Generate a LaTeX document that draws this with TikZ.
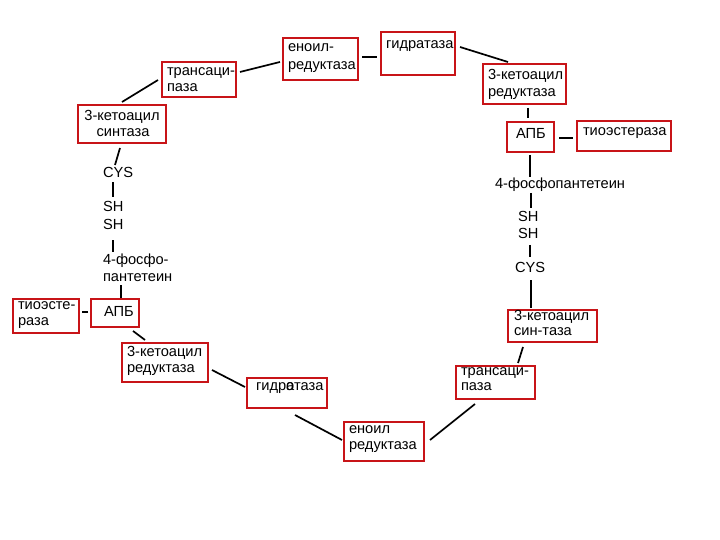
\documentclass[tikz,border=0pt]{standalone}
\usepackage{fontspec}
\setmainfont{Liberation Sans}
\usetikzlibrary{calc}
\definecolor{boxred}{RGB}{200,20,24}
\tikzset{
  box/.style={draw=boxred, line width=2bp, rectangle, inner sep=0pt, outer sep=0pt, anchor=north west},
  txt/.style={inner sep=0pt, outer sep=0pt, anchor=base west, font=\fontsize{14.7}{17}\selectfont},
  ctxt/.style={txt, anchor=base},
  conn/.style={draw=black, line width=1.7bp}
}
\begin{document}
\begin{tikzpicture}[x=1bp, y=-1bp]
\useasboundingbox[fill=white] (0,0) rectangle (720,540);
% boxes
\node[box, minimum width=74, minimum height=35] (tr1) at (162,62) {};
\node[box, minimum width=75, minimum height=42] (en1) at (283,38) {};
\node[box, minimum width=74, minimum height=43] (gid1) at (381,32) {};
\node[box, minimum width=83, minimum height=40] (kr1) at (483,64) {};
\node[box, minimum width=47, minimum height=30] (apb1) at (507,122) {};
\node[box, minimum width=94, minimum height=30] (te1) at (577,121) {};
\node[box, minimum width=88, minimum height=38] (ks1) at (78,105) {};
\node[box, minimum width=48, minimum height=28] (apb2) at (91,299) {};
\node[box, minimum width=66, minimum height=34] (te2) at (13,299) {};
\node[box, minimum width=86, minimum height=39] (kr2) at (122,343) {};
\node[box, minimum width=80, minimum height=30] (gid2) at (247,378) {};
\node[box, minimum width=80, minimum height=39] (en2) at (344,422) {};
\node[box, minimum width=79, minimum height=33] (tr2) at (456,366) {};
\node[box, minimum width=89, minimum height=32] (ks2) at (508,310) {};
% box texts
\node[txt] (tr1a) at (167,76) {трансаци-};
\node[txt] (tr1b) at (167,92) {паза};
\node[txt] (en1a) at (288,52) {еноил-};
\node[txt] (en1b) at (288,70) {редуктаза};
\node[txt] (gid1a) at (386,49) {гидратаза};
\node[txt] (kr1a) at (488,80) {3-кетоацил};
\node[txt] (kr1b) at (488,97) {редуктаза};
\node[txt] (apb1a) at (516,139) {АПБ};
\node[txt] (te1a) at (583,136) {тиоэстераза};
\node[ctxt] (ks1a) at (122,121) {3-кетоацил};
\node[ctxt] (ks1b) at (123,137) {синтаза};
\node[txt] (te2a) at (18,309) {тиоэсте-};
\node[txt] (te2b) at (18,325) {раза};
\node[txt] (apb2a) at (104,316) {АПБ};
\node[txt] (kr2a) at (127,356) {3-кетоацил};
\node[txt] (kr2b) at (127,372) {редуктаза};
\node[txt] (gid2a) at (256,390) {гидр\rlap{о}атаза};
\node[txt] (en2a) at (349,433) {еноил};
\node[txt] (en2b) at (349,449) {редуктаза};
\node[txt] (tr2a) at (461,375) {трансаци-};
\node[txt] (tr2b) at (461,390) {паза};
\node[txt] (ks2a) at (514,320) {3-кетоацил};
\node[txt] (ks2b) at (514,335) {син-таза};
% chains
\node[txt] (lcys) at (103,178) {CYS};
\node[txt] (lsh1) at (103,212) {SH};
\node[txt] (lsh2) at (103,230) {SH};
\node[txt] (lfp) at (103,265) {4-фосфо-};
\node[txt] (lpt) at (103,282) {пантетеин};
\node[txt] (rfp) at (495,189) {4-фосфопантетеин};
\node[txt] (rsh1) at (518,222) {SH};
\node[txt] (rsh2) at (518,239) {SH};
\node[txt] (rcys) at (515,273) {CYS};
% connectors
\draw[conn] ($(ks1.north west)+(44,-3)$) -- ($(tr1.north west)+(-4,18)$);
\draw[conn] ($(tr1.north west)+(78,10)$) -- ($(en1.north west)+(-3,24)$);
\draw[conn] ($(en1.north west)+(79,19)$) -- ($(gid1.north west)+(-4,25)$);
\draw[conn] ($(gid1.north west)+(79,15)$) -- ($(kr1.north west)+(25,-2)$);
\draw[conn] ($(kr1.north west)+(45,44)$) -- ($(apb1.north west)+(21,-4)$);
\draw[conn] ($(apb1.north west)+(52,16)$) -- ($(te1.north west)+(-4,17)$);
\draw[conn] ($(apb1.north west)+(23,33)$) -- ($(rfp.base west)+(35,-12)$);
\draw[conn] ($(rfp.base west)+(36,4)$) -- ($(rsh1.base west)+(13,-14)$);
\draw[conn] ($(rsh2.base west)+(12,6)$) -- ($(rcys.base west)+(15,-16)$);
\draw[conn] ($(rcys.base west)+(16,7)$) -- ($(ks2.north west)+(23,-2)$);
\draw[conn] ($(ks2.north west)+(15,37)$) -- ($(tr2.north west)+(62,-3)$);
\draw[conn] ($(tr2.north west)+(19,38)$) -- ($(en2.north west)+(86,18)$);
\draw[conn] ($(en2.north west)+(-2,18)$) -- ($(gid2.north west)+(48,37)$);
\draw[conn] ($(gid2.north west)+(-2,9)$) -- ($(kr2.north west)+(90,27)$);
\draw[conn] ($(kr2.north west)+(23,-3)$) -- ($(apb2.north west)+(42,32)$);
\draw[conn] ($(apb2.north west)+(-3,13)$) -- ($(te2.north west)+(69,13)$);
\draw[conn] ($(apb2.north west)+(30,-1)$) -- ($(lpt.base west)+(18,3)$);
\draw[conn] ($(lfp.base west)+(10,-13)$) -- ($(lsh2.base west)+(10,10)$);
\draw[conn] ($(lsh1.base west)+(10,-15)$) -- ($(lcys.base west)+(10,4)$);
\draw[conn] ($(lcys.base west)+(12,-13)$) -- ($(ks1.north west)+(42,43)$);
\end{tikzpicture}
\end{document}
